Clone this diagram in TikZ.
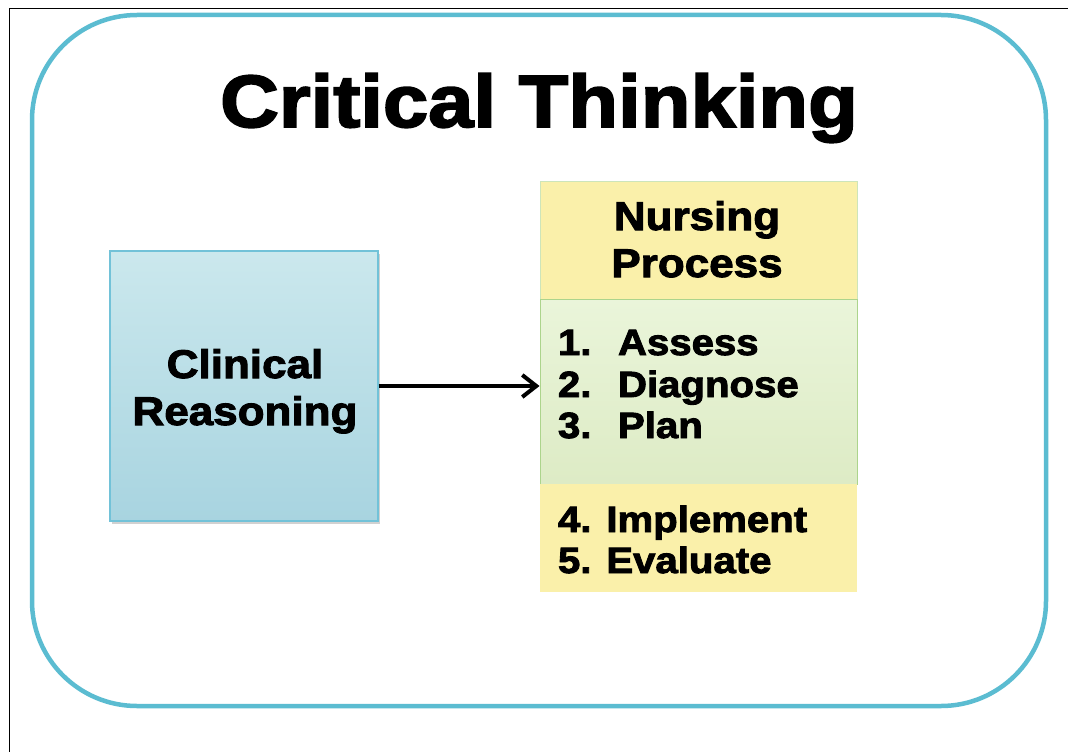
\documentclass[tikz,border=0pt]{standalone}
\usepackage{fontspec}
\setmainfont[FakeStretch=1.1, BoldFeatures={FakeBold=2.5}]{Liberation Sans}
\usetikzlibrary{arrows.meta,shadows}
\definecolor{frameblue}{RGB}{91,188,209}
\definecolor{clintop}{RGB}{203,232,237}
\definecolor{clinbot}{RGB}{168,212,224}
\definecolor{clinedge}{RGB}{114,194,216}
\definecolor{npyellow}{RGB}{250,240,170}
\definecolor{greentop}{RGB}{234,245,218}
\definecolor{greenbot}{RGB}{221,235,197}
\definecolor{greenedge}{RGB}{172,212,140}
\tikzset{
  txt/.style={inner sep=0pt, outer sep=0pt, text=black},
  titletxt/.style={txt, font=\fontsize{74}{80}\selectfont\bfseries},
  boxtxt/.style={txt, font=\fontsize{40}{46}\selectfont\bfseries},
  listtxt/.style={txt, font=\fontsize{36.5}{42}\selectfont\bfseries},
  clinbox/.style={rectangle, draw=clinedge, line width=1.2pt, top color=clintop, bottom color=clinbot,
    minimum width=268pt, minimum height=270pt, inner sep=0pt,
    drop shadow={shadow xshift=2pt, shadow yshift=-3pt, opacity=0.18, fill=black}},
  yellowbox/.style={rectangle, fill=npyellow, minimum width=317pt, inner sep=0pt},
  greenbox/.style={rectangle, draw=greenedge, line width=1pt, top color=greentop, bottom color=greenbot,
    minimum width=317pt, inner sep=0pt},
  arr/.style={line width=3.8pt, -{Straight Barb[length=14pt,width=22pt,line width=4pt]}},
}
\begin{document}
\begin{tikzpicture}[x=1pt,y=-1pt]
\useasboundingbox (0,0) rectangle (1068,752);
\fill[white] (0,0) rectangle (1068,752);
% page frame lines
\draw[line width=1.4pt] (9.5,752) -- (9.5,8.5) -- (1068,8.5);
% outer rounded frame
\draw[frameblue, line width=4.5pt, rounded corners=105pt] (32,15) rectangle (1046,706);
% title
\node[titletxt, anchor=base] (title) at (539,127) {Critical Thinking};
% clinical reasoning box
\node[clinbox] (clin) at (244,386) {};
\node[boxtxt, anchor=base] (clinA) at (245,378) {Clinical};
\node[boxtxt, anchor=base] (clinB) at (245,425) {Reasoning};
% nursing process column
\node[yellowbox, minimum height=118pt, draw=greenedge!60, line width=0.8pt] (head) at (698.5,240) {};
\node[greenbox, minimum height=185pt] (steps) at (698.5,391.5) {};
\node[yellowbox, minimum height=108pt] (later) at (698.5,538) {};
\node[boxtxt, anchor=base] (headA) at (697,230) {Nursing};
\node[boxtxt, anchor=base] (headB) at (697,277) {Process};
% list
\node[listtxt, anchor=base west] (n1) at (558,355) {1.};
\node[listtxt, anchor=base west] (s1) at (618,355) {Assess};
\node[listtxt, anchor=base west] (n2) at (558,397) {2.};
\node[listtxt, anchor=base west] (s2) at (618,397) {Diagnose};
\node[listtxt, anchor=base west] (n3) at (558,438) {3.};
\node[listtxt, anchor=base west] (s3) at (618,438) {Plan};
\node[listtxt, anchor=base west] (s4) at (558,532) {4. Implement};
\node[listtxt, anchor=base west] (s5) at (558,573) {5. Evaluate};
% connector
\draw[arr] (clin.east) -- (clin.east -| steps.west);
\end{tikzpicture}
\end{document}
